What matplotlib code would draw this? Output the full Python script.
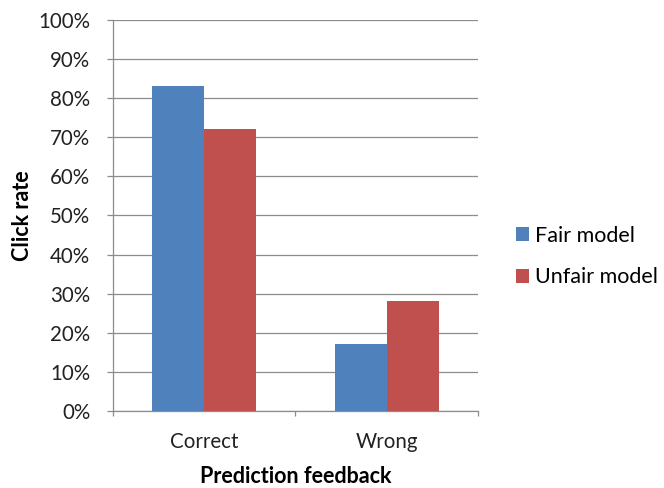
import matplotlib
matplotlib.use('Agg')
import matplotlib.pyplot as plt
from matplotlib.ticker import FuncFormatter, FixedLocator
import numpy as np

# Data
categories = ["Correct", "Wrong"]
fair_model = [83, 17]
unfair_model = [72, 28]
series_names = ["Fair model", "Unfair model"]
colors = ["#4F81BD", "#C0504D"]

plt.rcParams['font.family'] = ['Lato', 'DejaVu Sans']

fig = plt.figure(figsize=(6.64, 4.88), dpi=100)
ax = fig.add_axes([0.170, 0.158, 0.550, 0.801])

x = np.arange(len(categories))
width = 0.285
ax.bar(x - width / 2, fair_model, width, color=colors[0], label=series_names[0], zorder=3)
ax.bar(x + width / 2, unfair_model, width, color=colors[1], label=series_names[1], zorder=3)

ax.set_xlim(-0.5, len(categories) - 0.5)
ax.set_ylim(0, 100)
ax.set_yticks(np.arange(0, 101, 10))
ax.yaxis.set_major_formatter(FuncFormatter(lambda v, p: f"{int(v)}%"))
ax.grid(axis='y', color='#8c8c8c', linewidth=0.9, zorder=0)

ax.set_xticks(x)
ax.set_xticklabels(categories)
ax.xaxis.set_minor_locator(FixedLocator([-0.5, 0.5, 1.5]))
ax.tick_params(axis='x', which='major', length=0, pad=15, labelsize=14.8, colors='#222222')
ax.tick_params(axis='x', which='minor', length=3.6, color='#8c8c8c', width=0.9)
ax.tick_params(axis='y', length=4.3, color='#8c8c8c', width=0.9, labelsize=14.8, pad=12, labelcolor='#222222')

for side in ['top', 'right']:
    ax.spines[side].set_visible(False)
for side in ['left', 'bottom']:
    ax.spines[side].set_color('#8c8c8c')
    ax.spines[side].set_linewidth(0.9)

ax.set_ylabel("Click rate", fontsize=15.5, fontweight='bold', labelpad=4)
ax.set_xlabel("Prediction feedback", fontsize=15.5, fontweight='bold', labelpad=10)

ax.legend(loc='center left', bbox_to_anchor=(1.08, 0.395), frameon=False,
          fontsize=15.5, handlelength=0.6, handleheight=0.6, handletextpad=0.3,
          labelspacing=1.0, borderaxespad=0)

fig.savefig("out.png", dpi=100)
